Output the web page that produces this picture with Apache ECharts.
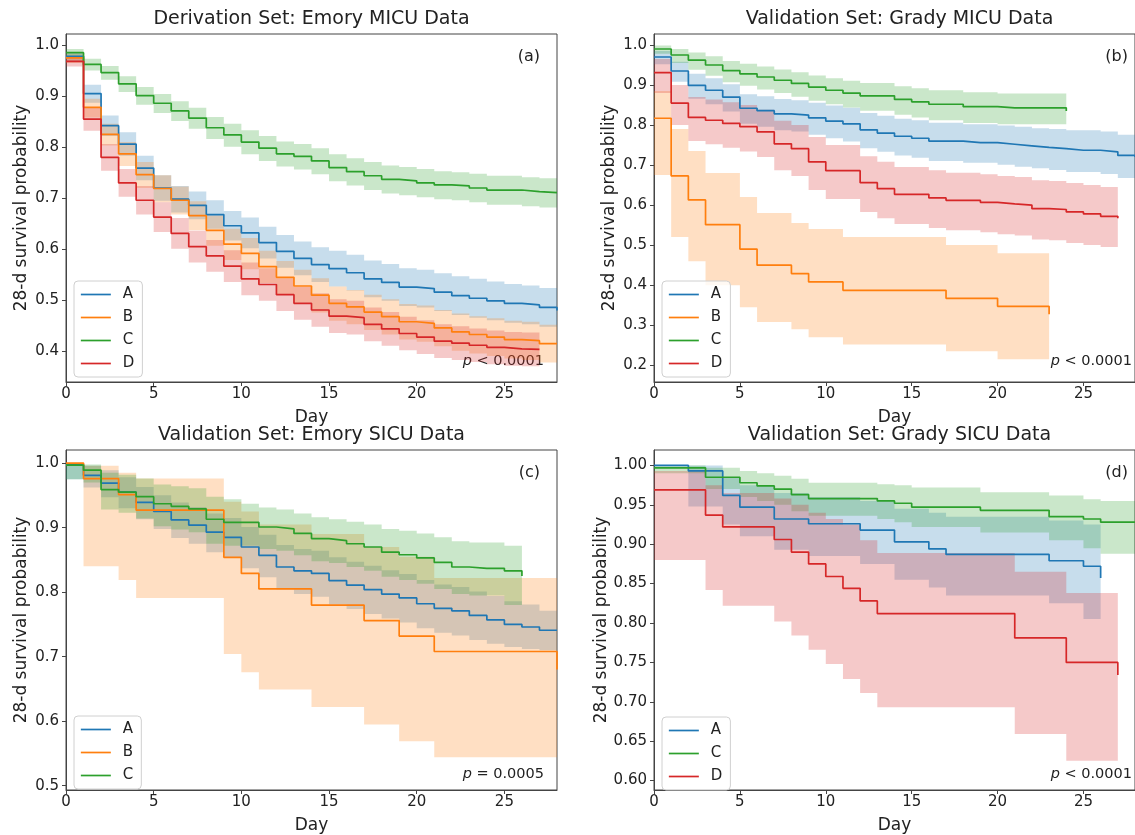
<!DOCTYPE html>
<html lang="en">
<head>
<meta charset="UTF-8">
<title>28-d survival</title>
<script src="https://cdn.jsdelivr.net/npm/echarts@6/dist/echarts.min.js"></script>
<style>
    html, body { margin: 0; padding: 0; background: #fff; }
    #main { width: 1135px; height: 835px; }
</style>
</head>
<body>
<div id="main"></div>
<script>
// ticks
var dayTicks = [0, 5, 10, 15, 20, 25];
var ticksEmMicu = [0.4, 0.5, 0.6, 0.7, 0.8, 0.9, 1.0];
var ticksGrMicu = [0.2, 0.3, 0.4, 0.5, 0.6, 0.7, 0.8, 0.9, 1.0];
var ticksEmSicu = [0.5, 0.6, 0.7, 0.8, 0.9, 1.0];
var ticksGrSicu = [0.60, 0.65, 0.70, 0.75, 0.80, 0.85, 0.90, 0.95, 1.00];

var panelTitles = ['Derivation Set: Emory MICU Data', 'Validation Set: Grady MICU Data',
    'Validation Set: Emory SICU Data', 'Validation Set: Grady SICU Data'];
var panelLetters = ['(a)', '(b)', '(c)', '(d)'];
var panelP = ['< 0.0001', '< 0.0001', '= 0.0005', '< 0.0001'];

var days0to28 = [0,1,2,3,4,5,6,7,8,9,10,11,12,13,14,15,16,17,18,19,20,21,22,23,24,25,26,27,28];
var days0to27 = [0,1,2,3,4,5,6,7,8,9,10,11,12,13,14,15,16,17,18,19,20,21,22,23,24,25,26,27];
var days0to26 = [0,1,2,3,4,5,6,7,8,9,10,11,12,13,14,15,16,17,18,19,20,21,22,23,24,25,26];
var days0to24 = [0,1,2,3,4,5,6,7,8,9,10,11,12,13,14,15,16,17,18,19,20,21,22,23,24];

// (a) Emory MICU
var emA    = [0.978,0.905,0.842,0.806,0.759,0.720,0.698,0.686,0.668,0.646,0.632,0.613,0.596,0.582,0.570,0.562,0.554,0.542,0.535,0.526,0.523,0.516,0.509,0.504,0.499,0.494,0.491,0.486,0.480];
var emA_hi = [0.986,0.922,0.862,0.829,0.783,0.745,0.724,0.713,0.696,0.675,0.662,0.644,0.628,0.615,0.604,0.597,0.589,0.578,0.571,0.563,0.560,0.553,0.547,0.542,0.537,0.532,0.529,0.524,0.518];
var emA_lo = [0.968,0.887,0.822,0.783,0.735,0.695,0.672,0.659,0.640,0.617,0.602,0.582,0.564,0.549,0.536,0.527,0.519,0.506,0.499,0.489,0.486,0.479,0.471,0.466,0.461,0.456,0.453,0.448,0.442];
var emB    = [0.975,0.878,0.825,0.787,0.746,0.719,0.696,0.666,0.637,0.610,0.592,0.566,0.545,0.528,0.510,0.494,0.487,0.477,0.468,0.458,0.455,0.446,0.438,0.433,0.428,0.423,0.421,0.415,0.415];
var emB_hi = [0.983,0.895,0.846,0.810,0.771,0.745,0.723,0.694,0.666,0.640,0.622,0.597,0.577,0.560,0.543,0.527,0.520,0.511,0.502,0.493,0.490,0.481,0.474,0.469,0.465,0.460,0.458,0.452,0.452];
var emB_lo = [0.965,0.858,0.803,0.763,0.720,0.692,0.668,0.637,0.607,0.579,0.561,0.534,0.512,0.495,0.476,0.460,0.453,0.442,0.433,0.423,0.419,0.410,0.401,0.396,0.391,0.386,0.383,0.378,0.378];
var emC    = [0.985,0.962,0.946,0.924,0.901,0.886,0.871,0.857,0.838,0.824,0.810,0.798,0.787,0.782,0.773,0.760,0.752,0.744,0.737,0.734,0.730,0.726,0.724,0.720,0.716,0.716,0.713,0.711,0.710];
var emC_hi = [0.992,0.973,0.959,0.939,0.918,0.904,0.890,0.877,0.859,0.846,0.833,0.822,0.811,0.806,0.798,0.786,0.778,0.771,0.764,0.761,0.757,0.753,0.751,0.748,0.744,0.744,0.741,0.739,0.738];
var emC_lo = [0.977,0.950,0.932,0.908,0.883,0.867,0.851,0.836,0.816,0.801,0.786,0.773,0.762,0.756,0.747,0.733,0.725,0.716,0.709,0.706,0.702,0.698,0.696,0.692,0.687,0.687,0.684,0.682,0.681];
var emD    = [0.968,0.855,0.780,0.730,0.696,0.663,0.631,0.605,0.587,0.567,0.542,0.531,0.511,0.494,0.481,0.469,0.466,0.453,0.444,0.435,0.428,0.420,0.416,0.412,0.408,0.405,0.404,0.403];
var emD_hi = [0.978,0.878,0.806,0.757,0.724,0.692,0.661,0.636,0.618,0.598,0.574,0.563,0.543,0.526,0.514,0.502,0.499,0.486,0.477,0.468,0.461,0.453,0.449,0.445,0.441,0.438,0.437,0.436];
var emD_lo = [0.958,0.832,0.754,0.703,0.668,0.634,0.601,0.574,0.556,0.536,0.510,0.499,0.479,0.462,0.448,0.436,0.433,0.420,0.411,0.402,0.395,0.387,0.383,0.379,0.375,0.372,0.371,0.370];

// (b) Grady MICU
var gmA    = [0.970,0.935,0.899,0.887,0.870,0.842,0.836,0.828,0.825,0.818,0.810,0.803,0.788,0.780,0.772,0.767,0.760,0.760,0.756,0.756,0.752,0.748,0.744,0.741,0.737,0.737,0.733,0.724,0.720];
var gmA_hi = [0.985,0.958,0.928,0.917,0.902,0.877,0.872,0.865,0.862,0.856,0.849,0.843,0.830,0.823,0.816,0.812,0.806,0.806,0.802,0.802,0.799,0.796,0.792,0.790,0.787,0.787,0.784,0.776,0.772];
var gmA_lo = [0.952,0.908,0.866,0.852,0.834,0.803,0.796,0.787,0.784,0.776,0.767,0.759,0.742,0.733,0.724,0.718,0.710,0.710,0.706,0.706,0.701,0.696,0.692,0.688,0.683,0.683,0.678,0.668,0.663];
var gmB_days = [0,1,2,3,5,6,8,9,11,17,20,23];
var gmB    = [0.817,0.673,0.613,0.551,0.490,0.450,0.429,0.408,0.387,0.367,0.347,0.327];
var gmB_hi = [0.885,0.790,0.735,0.680,0.620,0.580,0.555,0.540,0.520,0.500,0.480,0.480];
var gmB_lo = [0.675,0.520,0.460,0.400,0.345,0.308,0.290,0.270,0.252,0.235,0.215,0.215];
var gmC    = [0.990,0.975,0.962,0.950,0.936,0.928,0.920,0.912,0.904,0.895,0.887,0.880,0.873,0.873,0.864,0.858,0.852,0.852,0.846,0.846,0.843,0.843,0.843,0.843,0.835];
var gmC_hi = [0.999,0.990,0.981,0.972,0.960,0.953,0.946,0.939,0.932,0.924,0.917,0.911,0.905,0.905,0.897,0.892,0.887,0.887,0.882,0.882,0.879,0.879,0.879,0.879,0.872];
var gmC_lo = [0.978,0.955,0.938,0.923,0.907,0.898,0.889,0.880,0.871,0.861,0.852,0.844,0.836,0.836,0.826,0.819,0.812,0.812,0.805,0.805,0.802,0.802,0.802,0.802,0.795];
var gmD    = [0.931,0.855,0.819,0.812,0.804,0.796,0.783,0.753,0.741,0.708,0.686,0.686,0.656,0.641,0.627,0.627,0.618,0.612,0.612,0.607,0.603,0.600,0.591,0.589,0.583,0.578,0.572,0.567];
var gmD_hi = [0.965,0.900,0.870,0.864,0.857,0.850,0.838,0.811,0.800,0.770,0.750,0.750,0.722,0.708,0.695,0.695,0.687,0.681,0.681,0.677,0.673,0.670,0.662,0.660,0.655,0.650,0.645,0.640];
var gmD_lo = [0.880,0.800,0.760,0.752,0.743,0.734,0.720,0.687,0.673,0.638,0.615,0.615,0.583,0.567,0.553,0.553,0.543,0.537,0.537,0.532,0.527,0.524,0.514,0.512,0.505,0.500,0.495,0.495];

// (c) Emory SICU
var esA    = [0.998,0.981,0.969,0.955,0.939,0.925,0.912,0.904,0.893,0.885,0.870,0.857,0.839,0.833,0.829,0.818,0.811,0.804,0.797,0.791,0.782,0.775,0.771,0.764,0.757,0.750,0.746,0.741,0.741];
var esA_hi = [1.000,0.996,0.989,0.978,0.963,0.950,0.939,0.932,0.922,0.915,0.901,0.889,0.873,0.867,0.864,0.854,0.847,0.841,0.834,0.828,0.819,0.812,0.808,0.801,0.794,0.786,0.781,0.771,0.771];
var esA_lo = [0.975,0.962,0.947,0.930,0.913,0.898,0.884,0.875,0.862,0.853,0.837,0.823,0.804,0.797,0.793,0.781,0.774,0.766,0.759,0.753,0.744,0.737,0.733,0.726,0.720,0.715,0.712,0.710,0.710];
var esB_days = [0,1,3,4,9,10,11,14,17,19,21,28];
var esB    = [1.000,0.976,0.951,0.927,0.854,0.829,0.805,0.780,0.756,0.732,0.708,0.680];
var esB_hi = [1.000,0.996,0.985,0.976,0.940,0.925,0.905,0.890,0.870,0.855,0.822,0.822];
var esB_lo = [1.000,0.840,0.819,0.791,0.704,0.676,0.649,0.622,0.595,0.569,0.544,0.544];
var esC    = [0.997,0.989,0.959,0.955,0.948,0.937,0.933,0.929,0.913,0.908,0.908,0.901,0.898,0.891,0.883,0.880,0.875,0.870,0.862,0.858,0.853,0.846,0.839,0.837,0.837,0.833,0.825];
var esC_hi = [1.000,0.998,0.985,0.982,0.976,0.967,0.964,0.961,0.948,0.944,0.937,0.931,0.928,0.922,0.916,0.913,0.909,0.905,0.898,0.895,0.891,0.885,0.879,0.877,0.877,0.872,0.872];
var esC_lo = [0.975,0.970,0.928,0.923,0.914,0.902,0.897,0.893,0.875,0.872,0.872,0.867,0.864,0.857,0.848,0.845,0.839,0.833,0.824,0.819,0.813,0.805,0.797,0.795,0.795,0.780,0.780];

// (d) Grady SICU
var gsA_days = [0,2,4,5,7,9,12,14,16,17,23,25,26];
var gsA    = [1.000,0.993,0.962,0.947,0.932,0.926,0.918,0.903,0.894,0.887,0.879,0.872,0.857];
var gsA_hi = [1.000,1.000,0.985,0.975,0.965,0.960,0.955,0.945,0.940,0.935,0.930,0.925,0.925];
var gsA_lo = [1.000,0.948,0.925,0.910,0.893,0.885,0.875,0.855,0.845,0.835,0.825,0.805,0.785];
var gsC_days = [0,3,5,6,7,8,9,13,14,15,19,23,25,26,28];
var gsC    = [0.997,0.985,0.978,0.974,0.970,0.963,0.958,0.955,0.952,0.947,0.943,0.935,0.932,0.928,0.928];
var gsC_hi = [1.000,0.997,0.993,0.990,0.987,0.983,0.978,0.976,0.975,0.972,0.966,0.962,0.957,0.955,0.955];
var gsC_lo = [0.990,0.970,0.960,0.955,0.950,0.942,0.936,0.932,0.928,0.922,0.915,0.905,0.895,0.888,0.888];
var gsD_days = [0,3,4,7,8,9,10,11,12,13,21,24,27];
var gsD    = [0.969,0.937,0.922,0.906,0.890,0.875,0.859,0.844,0.828,0.812,0.781,0.750,0.734];
var gsD_hi = [0.993,0.975,0.965,0.958,0.950,0.940,0.932,0.925,0.905,0.889,0.865,0.838,0.838];
var gsD_lo = [0.880,0.842,0.822,0.802,0.784,0.766,0.748,0.729,0.711,0.693,0.659,0.625,0.625];

var groupColors = { A: '#1f77b4', B: '#ff7f0e', C: '#2ca02c', D: '#d62728' };
var bandColors = { A: 'rgba(31,119,180,0.25)', B: 'rgba(255,127,14,0.25)', C: 'rgba(44,160,44,0.25)', D: 'rgba(214,39,40,0.25)' };

var FONT = "'DejaVu Sans', sans-serif";
var TXT = '#222';

// layout of the 4 panels (px)
var gLeft = [66, 654, 66, 654];
var gTop = [34, 34, 450, 450];
var gWidth = 491;
var gHeight = [348, 348, 345, 345];
var yMin = [0.340, 0.158, 0.4934, 0.588];
var yMax = [1.0216, 1.0275, 1.0203, 1.0196];
var yTicks = [ticksEmMicu, ticksGrMicu, ticksEmSicu, ticksGrSicu];
var yDec = [1, 1, 1, 2];

var grids = [], xAxes = [], yAxes = [], series = [], legends = [], graphics = [];

// filled confidence band drawn as one step polygon (post steps)
function bandRender(params, api) {
    if (params.dataIndexInside !== 0) return null;
    var n = params.dataInsideLength;
    var pts = [];
    var j;
    for (j = 0; j < n; j++) {
        if (j > 0) pts.push(api.coord([api.value(0, j), api.value(2, j - 1)]));
        pts.push(api.coord([api.value(0, j), api.value(2, j)]));
    }
    for (j = n - 1; j >= 0; j--) {
        pts.push(api.coord([api.value(0, j), api.value(1, j)]));
        if (j > 0) pts.push(api.coord([api.value(0, j), api.value(1, j - 1)]));
    }
    return {
        type: 'polygon',
        shape: { points: pts },
        style: { fill: bandColors[params.seriesName.charAt(0)], stroke: null }
    };
}

function addGroup(p, name, t, s, lo, hi) {
    var band = [], line = [];
    for (var i = 0; i < t.length; i++) {
        band.push([t[i], lo[i], hi[i]]);
        line.push([t[i], s[i]]);
    }
    series.push({
        name: name + ' band', type: 'custom', xAxisIndex: p, yAxisIndex: p,
        renderItem: bandRender, encode: { x: 0, y: [1, 2] }, data: band, z: 1, silent: true
    });
    series.push({
        name: name, type: 'line', xAxisIndex: p, yAxisIndex: p, step: 'end',
        symbol: 'none', data: line, z: 3, color: groupColors[name],
        lineStyle: { width: 1.7, color: groupColors[name] }
    });
}

for (var p = 0; p < 4; p++) {
    grids.push({ left: gLeft[p], top: gTop[p], width: gWidth, height: gHeight[p],
        show: true, borderColor: '#444', borderWidth: 1, backgroundColor: '#fff' });
    xAxes.push({
        type: 'value', gridIndex: p, min: 0, max: 28,
        name: 'Day', nameLocation: 'middle', nameGap: 27,
        nameTextStyle: { fontFamily: FONT, fontSize: 17, color: TXT },
        axisLine: { show: true, lineStyle: { color: '#444', width: 1 } },
        axisTick: { show: true, length: 4, customValues: dayTicks, lineStyle: { color: '#444' } },
        axisLabel: { customValues: dayTicks, margin: 5, fontFamily: FONT, fontSize: 15, color: TXT },
        splitLine: { show: false }
    });
    (function (dec) {
        yAxes.push({
            type: 'value', gridIndex: p, min: yMin[p], max: yMax[p],
            name: '28-d survival probability', nameLocation: 'middle', nameGap: 36,
            nameTextStyle: { fontFamily: FONT, fontSize: 17, color: TXT },
            axisLine: { show: true, lineStyle: { color: '#444', width: 1 } },
            axisTick: { show: true, length: 4, customValues: yTicks[p], lineStyle: { color: '#444' } },
            axisLabel: { customValues: yTicks[p], margin: 7, fontFamily: FONT, fontSize: 15, color: TXT,
                formatter: function (v) { return v.toFixed(dec); } },
            splitLine: { show: false }
        });
    })(yDec[p]);

    // title, panel letter, p value
    graphics.push({ type: 'text', x: gLeft[p] + gWidth / 2, y: gTop[p] - 15, silent: true,
        style: { text: panelTitles[p], fill: TXT, fontFamily: FONT, fontSize: 19, align: 'center', verticalAlign: 'middle' } });
    graphics.push({ type: 'text', x: gLeft[p] + 474, y: gTop[p] + 23, silent: true,
        style: { text: panelLetters[p], fill: TXT, fontFamily: FONT, fontSize: 16, align: 'right', verticalAlign: 'middle' } });
    graphics.push({ type: 'text', x: gLeft[p] + 478, y: gTop[p] + gHeight[p] - 21, silent: true,
        style: { text: '{i|p} ' + panelP[p], fill: TXT, fontFamily: FONT, fontSize: 14.5, align: 'right', verticalAlign: 'middle',
            rich: { i: { fontStyle: 'italic', fontFamily: FONT, fontSize: 14.5, fill: TXT } } } });
}

addGroup(0, 'A', days0to28, emA, emA_lo, emA_hi);
addGroup(0, 'B', days0to28, emB, emB_lo, emB_hi);
addGroup(0, 'C', days0to28, emC, emC_lo, emC_hi);
addGroup(0, 'D', days0to27, emD, emD_lo, emD_hi);

addGroup(1, 'A', days0to28, gmA, gmA_lo, gmA_hi);
addGroup(1, 'B', gmB_days, gmB, gmB_lo, gmB_hi);
addGroup(1, 'C', days0to24, gmC, gmC_lo, gmC_hi);
addGroup(1, 'D', days0to27, gmD, gmD_lo, gmD_hi);

addGroup(2, 'A', days0to28, esA, esA_lo, esA_hi);
addGroup(2, 'B', esB_days, esB, esB_lo, esB_hi);
addGroup(2, 'C', days0to26, esC, esC_lo, esC_hi);

addGroup(3, 'A', gsA_days, gsA, gsA_lo, gsA_hi);
addGroup(3, 'C', gsC_days, gsC, gsC_lo, gsC_hi);
addGroup(3, 'D', gsD_days, gsD, gsD_lo, gsD_hi);

var legendNames = [['A', 'B', 'C', 'D'], ['A', 'B', 'C', 'D'], ['A', 'B', 'C'], ['A', 'C', 'D']];
var legendTop = [281, 281, 716, 717];
for (var k = 0; k < 4; k++) {
    legends.push({
        data: legendNames[k], orient: 'vertical', left: gLeft[k] + 8, top: legendTop[k],
        itemWidth: 30, itemHeight: 14, itemGap: 8, selectedMode: false,
        itemStyle: { opacity: 0 },
        lineStyle: { width: 1.7 },
        padding: [6, 8, 6, 6], backgroundColor: 'rgba(255,255,255,0.8)',
        borderColor: '#d0d0d0', borderWidth: 1, borderRadius: 4,
        textStyle: { fontFamily: FONT, fontSize: 15, color: TXT, padding: [0, 0, 0, 7] }
    });
}

var myChart = echarts.init(document.getElementById('main'));
myChart.setOption({
    animation: false,
    backgroundColor: '#fff',
    grid: grids,
    xAxis: xAxes,
    yAxis: yAxes,
    legend: legends,
    graphic: graphics,
    series: series
});
</script>
</body>
</html>
